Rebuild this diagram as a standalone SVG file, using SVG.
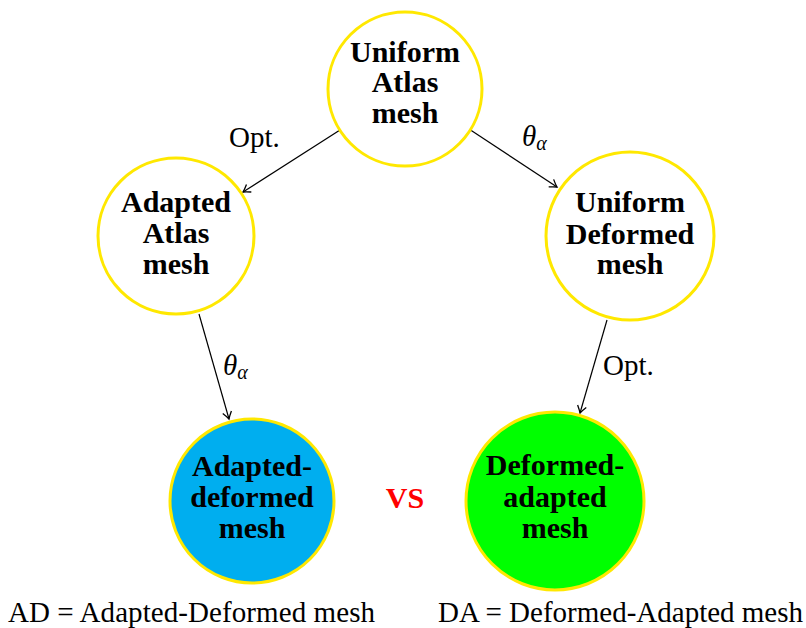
<svg xmlns="http://www.w3.org/2000/svg" width="806" height="628" viewBox="0 0 806 628">
<style>
.node{stroke:#ffe800;stroke-width:3}
.nt{font-family:"Liberation Serif","Times New Roman",serif;font-weight:bold;font-size:30px;text-anchor:middle;fill:#000}
.lbl{font-family:"Liberation Serif","Times New Roman",serif;font-size:29px;fill:#000}
.edge{stroke:#000;stroke-width:1.2;fill:none;marker-end:url(#arr)}
</style>
<defs>
<marker id="arr" markerUnits="userSpaceOnUse" markerWidth="14" markerHeight="12" viewBox="-8 -6 10 12" refX="0" refY="0" orient="auto">
<path d="M-7,-4.5 Q-2.5,-1.2 0,0 Q-2.5,1.2 -7,4.5" stroke="#000" stroke-width="1.3" fill="none"/>
</marker>
</defs>
<rect width="806" height="628" fill="#fff"/>
<g id="connectors">
<line class="edge" x1="340" y1="130" x2="243" y2="192"/>
<line class="edge" x1="469" y1="129" x2="557" y2="187"/>
<line class="edge" x1="199" y1="314" x2="229" y2="419"/>
<line class="edge" x1="607" y1="320" x2="580" y2="413"/>
<text class="lbl" x="229" y="147">Opt.</text>
<text class="lbl" x="522" y="146"><tspan font-style="italic">θ</tspan><tspan font-style="italic" font-size="20" dy="4">α</tspan></text>
<text class="lbl" x="223" y="375"><tspan font-style="italic">θ</tspan><tspan font-style="italic" font-size="20" dy="4">α</tspan></text>
<text class="lbl" x="603" y="375">Opt.</text>
</g>
<g id="uniform-atlas">
<circle class="node" cx="405" cy="89" r="77" fill="#fff"/>
<text class="nt" x="405" y="62">Uniform</text>
<text class="nt" x="405" y="92">Atlas</text>
<text class="nt" x="405" y="123">mesh</text>
</g>
<g id="adapted-atlas">
<circle class="node" cx="176" cy="236" r="78" fill="#fff"/>
<text class="nt" x="176" y="212">Adapted</text>
<text class="nt" x="176" y="243">Atlas</text>
<text class="nt" x="176" y="274">mesh</text>
</g>
<g id="uniform-deformed">
<circle class="node" cx="630" cy="236" r="84" fill="#fff"/>
<text class="nt" x="630" y="212">Uniform</text>
<text class="nt" x="630" y="244">Deformed</text>
<text class="nt" x="630" y="274">mesh</text>
</g>
<g id="adapted-deformed">
<circle class="node" cx="252" cy="501" r="82" fill="#00aeef"/>
<text class="nt" x="252" y="476">Adapted-</text>
<text class="nt" x="252" y="507">deformed</text>
<text class="nt" x="252" y="538">mesh</text>
</g>
<g id="deformed-adapted">
<circle class="node" cx="555" cy="501" r="89" fill="#00ff00"/>
<text class="nt" x="555" y="475">Deformed-</text>
<text class="nt" x="555" y="507">adapted</text>
<text class="nt" x="555" y="538">mesh</text>
</g>
<g id="vs">
<text class="nt" x="405" y="508" style="fill:#ff0000">VS</text>
</g>
<g id="legend">
<text class="lbl" x="8" y="622" textLength="367" lengthAdjust="spacing">AD = Adapted-Deformed mesh</text>
<text class="lbl" x="438" y="622" textLength="365" lengthAdjust="spacing">DA = Deformed-Adapted mesh</text>
</g>
</svg>
